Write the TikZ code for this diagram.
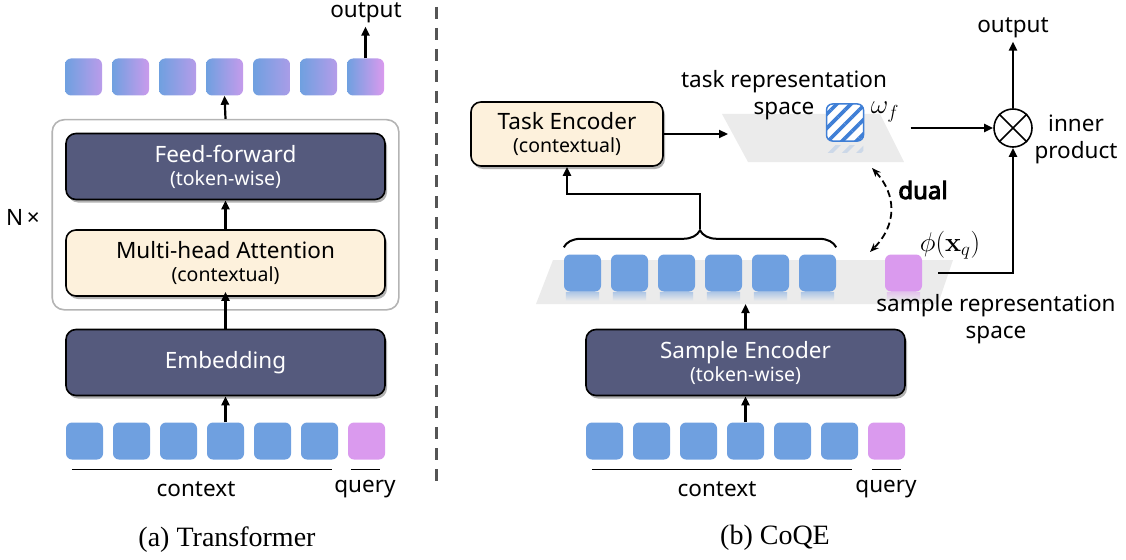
\documentclass[tikz,border=0pt]{standalone}
\usepackage{fix-cm}
\usepackage[no-math]{fontspec}
\setmainfont{Noto Sans}
\newfontfamily\capfont{Liberation Serif}
\newfontfamily\boldfont{Noto Sans}[FakeBold=4]
\usetikzlibrary{arrows.meta,shadows,fit,calc,decorations.pathreplacing,patterns.meta}

\definecolor{tokblue}{HTML}{6FA0E0}
\definecolor{tokpink}{HTML}{DA9AEE}
\definecolor{boxdark}{HTML}{555A7D}
\definecolor{boxcream}{HTML}{FDF1DC}
\definecolor{bandgray}{HTML}{EBEBEB}
\definecolor{framegray}{HTML}{B4B4B4}
\definecolor{sepgray}{HTML}{555555}
\definecolor{hatchblue}{HTML}{3F7FD6}

\newcommand{\subtxt}[1]{{\fontsize{19.5}{22}\selectfont #1}}

\tikzset{
	every node/.style={font=\fontsize{22.5}{27}\selectfont},
	mathlbl/.style={font=\fontsize{27}{30}\selectfont},
	tok/.style={rounded corners=6pt,minimum width=37pt,minimum height=37pt,inner sep=0pt},
	ctxtok/.style={tok,fill=tokblue},
	qtok/.style={tok,fill=tokpink},
	blockbox/.style={draw=black,line width=1.6pt,rounded corners=10pt,align=center,
		minimum width=319pt,minimum height=66pt,
		drop shadow={shadow xshift=2pt,shadow yshift=-3pt,opacity=0.3,fill=black}},
	darkbox/.style={blockbox,fill=boxdark,text=white},
	lightbox/.style={blockbox,fill=boxcream},
	arr/.style={-{Triangle[length=9pt,width=8pt]},line width=2.2pt},
	dualarr/.style={{Stealth[length=9pt,width=7pt]}-{Stealth[length=9pt,width=7pt]},line width=1.8pt,dash pattern=on 7pt off 4pt},
	underline/.style={line width=1.3pt},
	reflect/.style={top color=tokblue!45!bandgray,bottom color=bandgray},
	hatch/.style={pattern={Lines[angle=45,distance=10pt,line width=3.6pt]}},
}

\begin{document}
\begin{tikzpicture}[x=1pt,y=-1pt]
	\useasboundingbox (0,0) rectangle (1126,559);

	% (a) transformer
	\foreach \i/\m in {0/70,1/85,2/65,3/80,4/55,5/65,6/100}
		\node[tok,left color=tokblue,right color=tokpink!\m!tokblue] (out\i) at (83.5+47*\i,77) {};
	\node (outa) at (366,13) {output};

	\node[darkbox] (ff) at (225.5,166.5) {Feed-forward\\[-4pt]\subtxt{(token-wise)}};
	\node[lightbox] (mha) at (225.5,263) {Multi-head Attention\\[-4pt]\subtxt{(contextual)}};
	\node[draw=framegray,line width=1.6pt,rounded corners=12pt,inner sep=13pt,fit=(ff)(mha)] (layer) {};
	\node at (layer.west) [left=8pt,yshift=-3pt] {N\,×};
	\node[darkbox] (emb) at (225.5,362.5) {Embedding};

	\foreach \i in {0,...,5}
		\node[ctxtok] (ina\i) at (84.5+47*\i,441) {};
	\node[qtok] (qa) at (366.5,441) {};

	\draw[underline] ([xshift=6pt,yshift=-10pt]ina0.south west) -- ([xshift=-6pt,yshift=-10pt]ina5.south east);
	\draw[underline] ([xshift=3pt,yshift=-10pt]qa.south west) -- ([xshift=-5pt,yshift=-10pt]qa.south east);
	\node (ctxa) at (196,489) {context};
	\node (qlbla) at (365,489) {query};

	\draw[arr] (ina3.north) -- (emb.south);
	\draw[arr] (emb.north) -- ([yshift=5pt]mha.south);
	\draw[arr] (mha.north) -- (ff.south);
	\draw[arr] (layer.north) -- (out3.south);
	\draw[arr] (out6.north) -- (out6.north |- outa.south);

	\node[font=\capfont\fontsize{28}{32}\selectfont] (capa) at (227,540) {(a) Transformer};

	\draw[sepgray,line width=3pt,dash pattern=on 12pt off 9pt] (436,7) -- (436,489);

	% (b) CoQE
	\fill[bandgray] (722,114) -- (880,114) -- (904,162) -- (748,162) -- cycle;
	\fill[bandgray] (553,260) -- (953,260) -- (938,304) -- (536,304) -- cycle;

	\node[lightbox,minimum width=192pt,minimum height=64pt] (taskenc) at (567,134) {Task Encoder\\[-4pt]\subtxt{(contextual)}};
	\node[align=center] (tasklbl) at (784,95) {task representation\\space};
	\node[tok,draw=hatchblue,line width=1.5pt,preaction={fill=white},hatch,pattern color=hatchblue] (wtok) at (845,122.5) {};
	\fill[hatch,pattern color=tokblue!25!bandgray]
		([xshift=2pt,yshift=-3pt]wtok.south west) rectangle ([xshift=-2pt,yshift=-10pt]wtok.south east);
	\node[mathlbl] (omega) at (885,112) {$\omega_f$};
	\coordinate (taskspace) at (728,134);

	\node[circle,draw,line width=1.6pt,minimum size=38pt,inner sep=0pt] (prod) at (1013,128) {};
	\draw[line width=1.6pt] (prod.north east) -- (prod.south west) (prod.north west) -- (prod.south east);
	\node (outb) at (1013,28) {output};
	\node[align=center] (iplbl) at (1076,139) {inner\\product};

	\foreach \i in {0,...,5} {
		\node[ctxtok] (mid\i) at (582.5+47*\i,273) {};
		\shade[reflect] ([xshift=2pt,yshift=-1pt]mid\i.south west) rectangle ([xshift=-2pt,yshift=-9pt]mid\i.south east);
	}
	\node[qtok] (qb) at (903.5,273) {};
	\shade[top color=tokpink!45!bandgray,bottom color=bandgray] ([xshift=2pt,yshift=-1pt]qb.south west) rectangle ([xshift=-2pt,yshift=-9pt]qb.south east);
	\node[mathlbl] (phi) at (950,245) {$\phi(\mathbf{x}_q)$};
	\node[align=center] (samplelbl) at (996,319) {sample representation\\space};

	\draw[decorate,decoration={brace,amplitude=17pt},line width=2pt] ([yshift=7pt]mid0.north west) -- ([yshift=7pt]mid5.north east);
	\coordinate (bracetip) at ($(mid2.north east)!0.5!(mid3.north west)+(0,-25)$);

	\coordinate (dualtop) at (872,168);
	\coordinate (dualbot) at (870,252);
	\draw[dualarr] (dualtop) .. controls (897,195) and (897,225) .. (dualbot);
	\node[font=\boldfont\fontsize{24}{27}\selectfont] (dual) at (923,190) {dual};

	\node[darkbox] (sampenc) at (745.5,362.5) {Sample Encoder\\[-4pt]\subtxt{(token-wise)}};
	\coordinate (bandlow) at (745.5,304);

	\foreach \i in {0,...,5}
		\node[ctxtok] (inb\i) at (604.5+47*\i,441) {};
	\node[qtok] (qinb) at (886.5,441) {};

	\draw[underline] ([xshift=6pt,yshift=-10pt]inb0.south west) -- ([xshift=-6pt,yshift=-10pt]inb5.south east);
	\draw[underline] ([xshift=4pt,yshift=-10pt]qinb.south west) -- ([xshift=-4pt,yshift=-10pt]qinb.south east);
	\node (ctxb) at (717,489) {context};
	\node (qlblb) at (886,489) {query};

	\draw[arr] (inb3.north) -- (sampenc.south);
	\draw[arr] (sampenc.north) -- (bandlow);
	\draw[arr] (bracetip) -- ++(0,-35) -| (taskenc.south);
	\draw[arr] (taskenc.east) -- (taskspace);
	\draw[arr] ([xshift=8pt]omega.east |- prod.west) -- (prod.west);
	\draw[arr] ([xshift=16pt]qb.east) -| (prod.south);
	\draw[arr] (prod.north) -- (outb.south);

	\node[font=\capfont\fontsize{28}{32}\selectfont] (capb) at (775,538) {(b) CoQE};
\end{tikzpicture}
\end{document}
